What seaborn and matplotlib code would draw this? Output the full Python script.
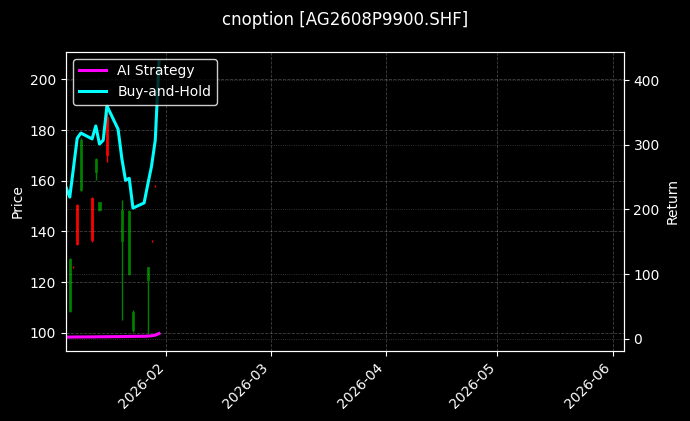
import numpy as np
import pandas as pd
import seaborn as sns
import matplotlib.pyplot as plt
import matplotlib.dates as mdates

plt.style.use("dark_background")

# daily candles (only the days that show a mark)
candle_dates = ["2026-01-06", "2026-01-07", "2026-01-08", "2026-01-09", "2026-01-12",
                "2026-01-13", "2026-01-14", "2026-01-16", "2026-01-20", "2026-01-22",
                "2026-01-23", "2026-01-27", "2026-01-28", "2026-01-29"]
opens = [108.5, 126.3, 150.5, 156.5, 153.0, 163.5, 148.5, 185.0, 136.4, 123.0, 101.0, 120.8, 136.4, 158.2]
closes = [129.0, 125.8, 135.0, 176.0, 136.5, 168.5, 151.5, 170.0, 148.3, 148.0, 108.0, 126.0, 136.0, 157.8]
highs = [129.5, 126.5, 151.0, 177.0, 153.6, 168.8, 151.7, 186.6, 152.3, 148.4, 109.0, 126.0, 136.6, 158.4]
lows = [108.0, 125.5, 134.6, 156.0, 135.9, 160.2, 148.1, 167.5, 105.0, 122.8, 100.4, 99.7, 135.8, 157.6]

# equity curves (return)
line_dates = ["2026-01-05", "2026-01-06", "2026-01-07", "2026-01-08", "2026-01-09",
              "2026-01-12", "2026-01-13", "2026-01-14", "2026-01-15", "2026-01-16",
              "2026-01-19", "2026-01-20", "2026-01-21", "2026-01-22", "2026-01-23",
              "2026-01-26", "2026-01-27", "2026-01-28", "2026-01-29", "2026-01-30"]
ai_strategy = [2.5, 2.5, 2.6, 2.7, 2.7, 2.8, 2.9, 3.0, 3.0, 3.1,
               3.2, 3.3, 3.4, 3.5, 3.6, 3.8, 4.0, 4.5, 5.5, 8.0]
buy_hold = [234, 219, 264, 310, 318, 309, 329, 301, 307, 360,
            324, 279, 245, 248, 202, 210, 239, 267, 307, 428]

cd = pd.to_datetime(candle_dates)
ld = pd.to_datetime(line_dates)
df = pd.DataFrame({"date": list(ld) * 2,
                   "ret": ai_strategy + buy_hold,
                   "series": ["AI Strategy"] * len(ld) + ["Buy-and-Hold"] * len(ld)})

fig = plt.figure(figsize=(6.9, 4.21), dpi=100)
ax = fig.add_axes([0.0957, 0.1663, 0.8083, 0.7107])
ax2 = ax.twinx()

up = np.array(closes) >= np.array(opens)
cols = np.where(up, "green", "red")
ax.vlines(cd, lows, highs, colors=cols, linewidth=1)
body_lo = np.minimum(opens, closes)
body_h = np.abs(np.array(closes) - np.array(opens))
big = body_h > 1
ax.bar(cd[big], body_h[big], bottom=body_lo[big], width=0.6, color=cols[big],
       linewidth=0.5, edgecolor=cols[big])

sns.lineplot(data=df, x="date", y="ret", hue="series", ax=ax2,
             palette={"AI Strategy": "magenta", "Buy-and-Hold": "cyan"}, linewidth=2.2)

ax.set_xlim(pd.Timestamp("2026-01-05"), pd.Timestamp("2026-06-04"))
ax.set_ylim(92.8, 210.9)
ax2.set_ylim(-19, 443.7)
ax.set_ylabel("Price")
ax2.set_ylabel("Return")
ax2.set_xlabel("")
ax.xaxis.set_major_locator(mdates.MonthLocator())
ax.xaxis.set_major_formatter(mdates.DateFormatter("%Y-%m"))
plt.setp(ax.get_xticklabels(), rotation=45, ha="right")

ax.grid(True, linestyle="--", linewidth=0.6, alpha=0.25)
ax2.grid(True, linestyle=":", linewidth=0.6, alpha=0.25)

leg = ax2.legend(loc="upper left", facecolor="black", edgecolor="white")
leg.set_title(None)
for h in leg.get_lines():
    h.set_linewidth(2.2)

fig.suptitle("cnoption [AG2608P9900.SHF]", y=0.975)
fig.savefig("out.png", dpi=100, facecolor="black")
